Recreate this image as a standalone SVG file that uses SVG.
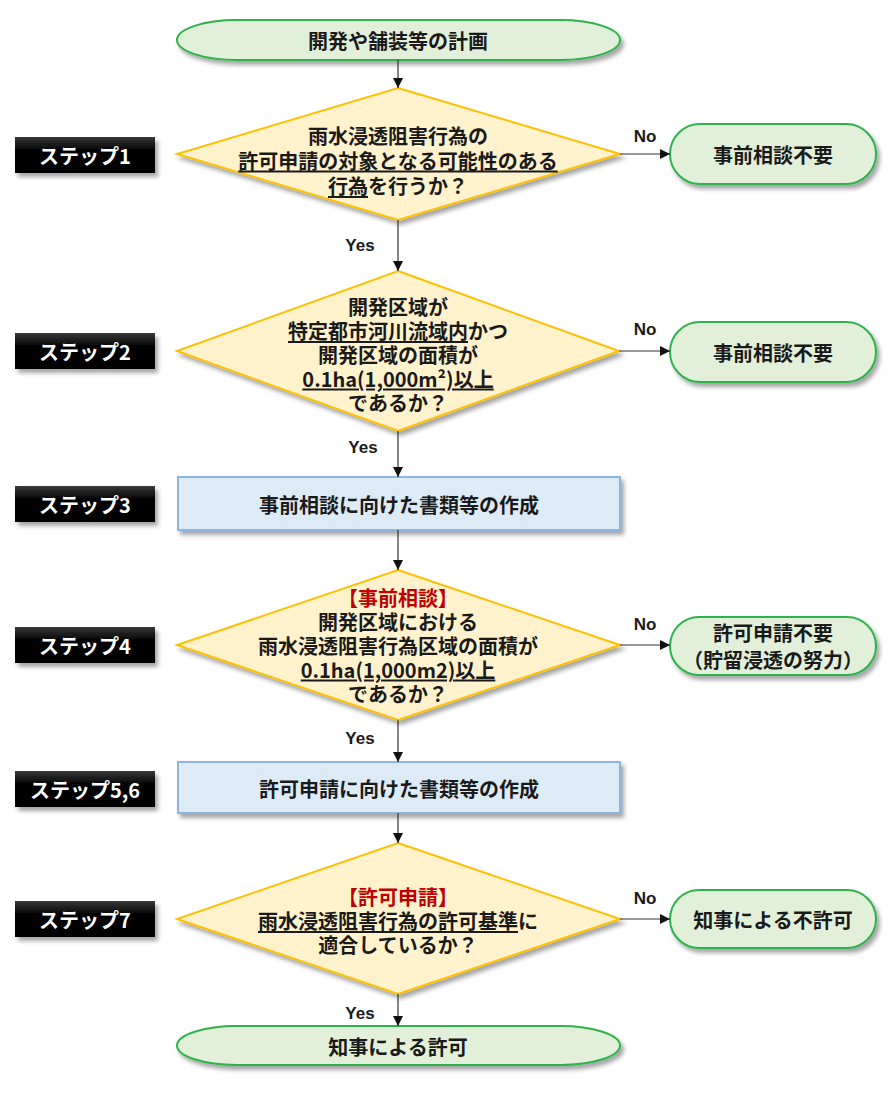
<svg xmlns="http://www.w3.org/2000/svg" width="893" height="1093" viewBox="0 0 893 1093">
<defs>
<filter id="sh" x="-10%" y="-20%" width="130%" height="150%">
<feDropShadow dx="3" dy="4" stdDeviation="2" flood-color="#000" flood-opacity="0.35"/>
</filter>
<linearGradient id="blk" x1="0" y1="0" x2="0" y2="1">
<stop offset="0" stop-color="#3a3a3a"/>
<stop offset="0.35" stop-color="#050505"/>
<stop offset="1" stop-color="#000"/>
</linearGradient>
<marker id="ah" markerWidth="10" markerHeight="10" refX="10" refY="5" orient="auto" markerUnits="userSpaceOnUse">
<path d="M0,0 L10,5 L0,10 Z" fill="#111"/>
</marker>
<style>
text{font-family:"Noto Sans CJK JP","Noto Sans",sans-serif;font-weight:700;fill:#1a1a1a;dominant-baseline:central;text-anchor:middle}
.t20{font-size:20px}
.red{fill:#C00000}
.u{text-decoration:underline}
.step rect{fill:url(#blk);filter:url(#sh)}
.step text{fill:#fff;font-size:20px}
.term{fill:#E2F0D9;stroke:#2DB24A;stroke-width:2;filter:url(#sh)}
.dia{fill:#FFF2CC;stroke:#FFC000;stroke-width:2;filter:url(#sh)}
.proc{fill:#DDEBF7;stroke:#8EB4E3;stroke-width:2;filter:url(#sh)}
.lbl{font-family:"Liberation Sans",Arial,sans-serif;font-size:17px}
#connectors line{stroke:#333;stroke-width:1.2;marker-end:url(#ah)}
</style>
</defs>
<rect width="893" height="1093" fill="#fff"/>

<g id="steps">
<g class="step" id="step1"><rect x="15" y="137" width="140" height="36"/><text x="85" y="155">ステップ1</text></g>
<g class="step" id="step2"><rect x="15" y="333" width="140" height="36"/><text x="85" y="351">ステップ2</text></g>
<g class="step" id="step3"><rect x="15" y="486" width="140" height="36"/><text x="85" y="504">ステップ3</text></g>
<g class="step" id="step4"><rect x="15" y="627" width="140" height="36"/><text x="85" y="645">ステップ4</text></g>
<g class="step" id="step56"><rect x="15" y="771" width="140" height="36"/><text x="85" y="789">ステップ5,6</text></g>
<g class="step" id="step7"><rect x="15" y="901" width="140" height="36"/><text x="85" y="919">ステップ7</text></g>
</g>

<g id="start">
<rect class="term" x="177" y="20" width="443" height="40" rx="60" ry="20"/>
<text class="t20" x="398" y="40">開発や舗装等の計画</text>
</g>

<g id="d1">
<polygon class="dia" points="398,88 620,154 398,220 177,154"/>
<text class="t20" x="398" y="135">雨水浸透阻害行為の</text>
<text class="t20 u" x="398" y="160">許可申請の対象となる可能性のある</text>
<text class="t20" x="398" y="185"><tspan class="u">行為</tspan>を行うか？</text>
</g>

<g id="n1">
<rect class="term" x="670" y="124" width="206" height="60" rx="30" ry="30"/>
<text class="t20" x="773" y="154">事前相談不要</text>
</g>

<g id="d2">
<polygon class="dia" points="398,271 619,351 398,431 177,351"/>
<text class="t20" x="398" y="306">開発区域が</text>
<text class="t20" x="398" y="330"><tspan class="u">特定都市河川流域内</tspan>かつ</text>
<text class="t20" x="398" y="354">開発区域の面積が</text>
<text class="t20 u" x="398" y="378">0.1ha(1,000m²)以上</text>
<text class="t20" x="398" y="402">であるか？</text>
</g>

<g id="n2">
<rect class="term" x="670" y="322" width="206" height="60" rx="30" ry="30"/>
<text class="t20" x="773" y="352">事前相談不要</text>
</g>

<g id="p3">
<rect class="proc" x="178" y="477" width="442" height="53"/>
<text class="t20" x="399" y="504">事前相談に向けた書類等の作成</text>
</g>

<g id="d4">
<polygon class="dia" points="398,570 620,645 398,720 177,645"/>
<text class="t20 red" x="398" y="597">【事前相談】</text>
<text class="t20" x="398" y="621">開発区域における</text>
<text class="t20" x="398" y="645">雨水浸透阻害行為区域の面積が</text>
<text class="t20 u" x="398" y="669">0.1ha(1,000m2)以上</text>
<text class="t20" x="398" y="693">であるか？</text>
</g>

<g id="n4">
<rect class="term" x="670" y="617" width="206" height="58" rx="29" ry="29"/>
<text class="t20" x="773" y="632">許可申請不要</text>
<text class="t20" x="773" y="659">（貯留浸透の努力）</text>
</g>

<g id="p56">
<rect class="proc" x="178" y="762" width="442" height="51"/>
<text class="t20" x="399" y="788">許可申請に向けた書類等の作成</text>
</g>

<g id="d7">
<polygon class="dia" points="398,843 620,919 398,994 177,919"/>
<text class="t20 red" x="398" y="896">【許可申請】</text>
<text class="t20" x="398" y="920"><tspan class="u">雨水浸透阻害行為の許可基準</tspan>に</text>
<text class="t20" x="398" y="944">適合しているか？</text>
</g>

<g id="n7">
<rect class="term" x="670" y="890" width="206" height="58" rx="29" ry="29"/>
<text class="t20" x="773" y="919">知事による不許可</text>
</g>

<g id="end">
<rect class="term" x="177" y="1026" width="443" height="39" rx="60" ry="19.5"/>
<text class="t20" x="398" y="1046">知事による許可</text>
</g>

<g id="connectors">
<line x1="398" y1="60" x2="398" y2="88"/>
<line x1="398" y1="220" x2="398" y2="271"/>
<line x1="398" y1="431" x2="398" y2="477"/>
<line x1="398" y1="530" x2="398" y2="570"/>
<line x1="398" y1="720" x2="398" y2="762"/>
<line x1="398" y1="813" x2="398" y2="843"/>
<line x1="398" y1="994" x2="398" y2="1026"/>
<line x1="620" y1="154" x2="670" y2="154"/>
<line x1="619" y1="351" x2="670" y2="351"/>
<line x1="620" y1="645" x2="670" y2="645"/>
<line x1="620" y1="919" x2="670" y2="919"/>
<text class="lbl" x="360" y="245">Yes</text>
<text class="lbl" x="363" y="447">Yes</text>
<text class="lbl" x="360" y="738">Yes</text>
<text class="lbl" x="360" y="1013">Yes</text>
<text class="lbl" x="645" y="136">No</text>
<text class="lbl" x="645" y="329">No</text>
<text class="lbl" x="645" y="624">No</text>
<text class="lbl" x="645" y="898">No</text>
</g>
</svg>
